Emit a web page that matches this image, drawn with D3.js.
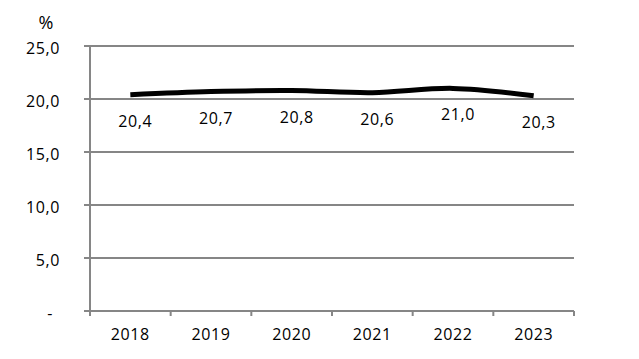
<!DOCTYPE html>
<html>
<head>
<meta charset="utf-8">
<script src="https://cdn.jsdelivr.net/npm/d3@7"></script>
<style>
  body { margin: 0; background: #fff; }
  text { font-family: "Open Sans", sans-serif; fill: #000; }
</style>
</head>
<body>
<div id="chart"></div>
<script>
  // data
  const years = ["2018", "2019", "2020", "2021", "2022", "2023"];
  const shares = [20.4, 20.7, 20.8, 20.6, 21.0, 20.3];
  const yTicks = [0, 5, 10, 15, 20, 25];

  const width = 639;
  const height = 359;
  const margin = { top: 46, right: 65, bottom: 48, left: 90 };

  const fmt = (v) => (v === 0 ? "-" : d3.format(".1f")(v).replace(".", ","));

  const svg = d3
    .select("#chart")
    .append("svg")
    .attr("width", width)
    .attr("height", height);

  const x = d3
    .scaleBand()
    .domain(years)
    .range([margin.left, width - margin.right])
    .padding(0);

  const y = d3
    .scaleLinear()
    .domain([0, 25])
    .range([height - margin.bottom, margin.top]);

  const grey = "#868686";

  // gridlines (also act as the small left ticks)
  svg
    .append("g")
    .selectAll("line")
    .data(yTicks)
    .join("line")
    .attr("x1", margin.left - 6)
    .attr("x2", width - margin.right)
    .attr("y1", (d) => y(d))
    .attr("y2", (d) => y(d))
    .attr("stroke", grey)
    .attr("stroke-width", 2);

  // y axis labels
  const yAxis = svg
    .append("g")
    .attr("transform", `translate(${margin.left},2)`)
    .call(d3.axisLeft(y).tickValues(yTicks).tickSize(0).tickPadding(30).tickFormat(fmt));
  yAxis.select(".domain").remove();
  yAxis
    .selectAll("text")
    .attr("font-size", 16)
    .attr("letter-spacing", "0.6px")
    .attr("font-family", "Open Sans")
    .attr("fill", "#000")
    .attr("dx", (d) => (d === 0 ? -7 : 0));

  // vertical axis line
  svg
    .append("line")
    .attr("x1", margin.left)
    .attr("x2", margin.left)
    .attr("y1", y(25))
    .attr("y2", y(0) + 5)
    .attr("stroke", grey)
    .attr("stroke-width", 2);

  // category boundary ticks on the x axis
  const bounds = years.map((d) => x(d)).concat([x.range()[1]]);
  svg
    .append("g")
    .selectAll("line")
    .data(bounds)
    .join("line")
    .attr("x1", (d) => d)
    .attr("x2", (d) => d)
    .attr("y1", y(0))
    .attr("y2", y(0) + 5)
    .attr("stroke", grey)
    .attr("stroke-width", 2);

  // x labels
  const xAxis = svg
    .append("g")
    .attr("transform", `translate(0,${y(0)})`)
    .call(d3.axisBottom(x).tickSize(0).tickPadding(18));
  xAxis.select(".domain").remove();
  xAxis
    .selectAll("text")
    .attr("font-size", 16)
    .attr("letter-spacing", "0.6px")
    .attr("font-family", "Open Sans")
    .attr("fill", "#000");

  // the line
  const line = d3
    .line()
    .x((d, i) => x(years[i]) + x.bandwidth() / 2)
    .y((d) => y(d))
    .curve(d3.curveCatmullRom.alpha(0.5));

  svg
    .append("path")
    .datum(shares)
    .attr("fill", "none")
    .attr("stroke", "#000")
    .attr("stroke-width", 5)
    .attr("d", line);

  // value labels below the points
  svg
    .append("g")
    .selectAll("text")
    .data(shares)
    .join("text")
    .attr("x", (d, i) => x(years[i]) + x.bandwidth() / 2 + 5)
    .attr("y", (d) => y(d) + 26)
    .attr("text-anchor", "middle")
    .attr("dominant-baseline", "central")
    .attr("font-size", 16)
    .attr("letter-spacing", "0.6px")
    .text(fmt);

  // unit
  svg
    .append("text")
    .attr("x", 46)
    .attr("y", 22)
    .attr("text-anchor", "middle")
    .attr("dominant-baseline", "central")
    .attr("font-size", 18)
    .text("%");
</script>
</body>
</html>
